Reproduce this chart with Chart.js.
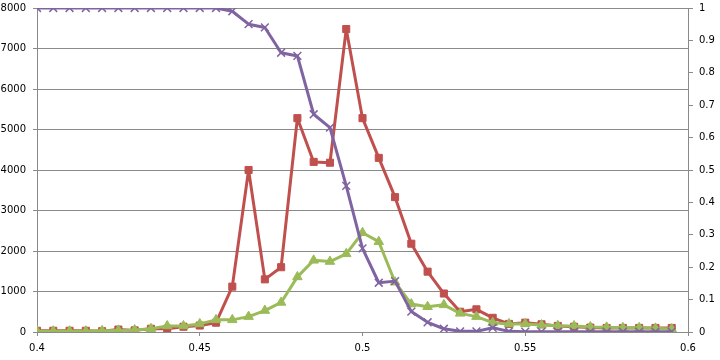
<!DOCTYPE html>
<html>
<head>
    <meta charset="utf-8" />
    <title>Chart</title>
    <script src="https://cdn.jsdelivr.net/npm/chart.js@4/dist/chart.umd.min.js"></script>
    <style>
        html, body { margin: 0; padding: 0; background: #fff; }
        #wrap { width: 720px; height: 360px; }
    </style>
</head>
<body>
    <div id="wrap"><canvas id="chart" width="720" height="360"></canvas></div>
    <script>
        // x positions of the samples
        const xs = [0.4, 0.405, 0.41, 0.415, 0.42, 0.425, 0.43, 0.435, 0.44, 0.445,
            0.45, 0.455, 0.46, 0.465, 0.47, 0.475, 0.48, 0.485, 0.49, 0.495,
            0.5, 0.505, 0.51, 0.515, 0.52, 0.525, 0.53, 0.535, 0.54, 0.545,
            0.55, 0.555, 0.56, 0.565, 0.57, 0.575, 0.58, 0.585, 0.59, 0.595];

        // left axis series
        const redValues = [30, 30, 30, 30, 20, 60, 40, 80, 80, 130,
            160, 230, 1120, 4000, 1300, 1600, 5280, 4200, 4180, 7480,
            5280, 4300, 3330, 2180, 1490, 950, 500, 560, 350, 200,
            230, 190, 150, 130, 110, 100, 100, 100, 100, 100];
        const greenValues = [20, 20, 20, 20, 30, 40, 50, 80, 150, 150,
            200, 300, 300, 380, 530, 730, 1360, 1770, 1740, 1930,
            2450, 2230, 1230, 690, 625, 670, 460, 380, 230, 200,
            200, 170, 155, 150, 125, 115, 105, 105, 90, 75];

        // right axis series (0..1)
        const purpleValues = [1, 1, 1, 1, 1, 1, 1, 1, 1, 1,
            1, 1, 0.99, 0.95, 0.94, 0.862, 0.852, 0.672, 0.631, 0.451,
            0.258, 0.152, 0.157, 0.063, 0.03, 0.01, 0.002, 0.002, 0.013, 0.002,
            0.001, 0.001, 0.001, 0.001, 0.001, 0.001, 0.001, 0.001, 0.001, 0.001];

        const gridColor = '#8a8a8a';
        const xFont = { family: 'DejaVu Sans', size: 10 };
        // small lineHeight so the top label doesn't push the plot area down
        const yFont = { family: 'DejaVu Sans', size: 10, lineHeight: 0.2 };

        const toPoints = vals => vals.map((v, i) => ({ x: xs[i], y: v }));

        new Chart(document.getElementById('chart').getContext('2d'), {
            type: 'line',
            data: {
                datasets: [
                    {
                        data: toPoints(redValues),
                        yAxisID: 'y',
                        borderColor: '#C0504D',
                        backgroundColor: '#C0504D',
                        borderWidth: 3,
                        borderJoinStyle: 'round',
                        pointStyle: 'rect',
                        pointRadius: 5,
                        pointBorderWidth: 1,
                        tension: 0,
                        order: 3,
                    },
                    {
                        data: toPoints(greenValues),
                        yAxisID: 'y',
                        borderColor: '#9BBB59',
                        backgroundColor: '#9BBB59',
                        borderWidth: 3,
                        borderJoinStyle: 'round',
                        pointStyle: 'triangle',
                        pointRadius: 5.5,
                        pointBorderWidth: 1,
                        tension: 0,
                        order: 2,
                    },
                    {
                        data: toPoints(purpleValues),
                        yAxisID: 'y1',
                        borderColor: '#8064A2',
                        backgroundColor: '#8064A2',
                        borderWidth: 3,
                        borderJoinStyle: 'round',
                        pointStyle: 'crossRot',
                        pointRadius: 5.5,
                        pointBorderWidth: 1.5,
                        tension: 0,
                        order: 1,
                    },
                ],
            },
            options: {
                responsive: false,
                animation: false,
                layout: { padding: { top: 8, left: 0, right: 0, bottom: 0 } },
                plugins: {
                    legend: { display: false },
                    tooltip: { enabled: false },
                },
                scales: {
                    x: {
                        type: 'linear',
                        min: 0.4,
                        max: 0.6,
                        afterFit: s => { s.height = 28; },
                        ticks: {
                            stepSize: 0.05,
                            color: '#000',
                            font: xFont,
                            padding: 6,
                            maxRotation: 0,
                            callback: v => String(Math.round(v * 100) / 100),
                        },
                        grid: { drawOnChartArea: false, drawTicks: true, tickLength: 4, color: gridColor },
                        border: { display: true, color: gridColor, width: 1 },
                    },
                    y: {
                        position: 'left',
                        min: 0,
                        max: 8000,
                        afterFit: s => { s.width = 37; },
                        ticks: {
                            stepSize: 1000,
                            color: '#000',
                            font: yFont,
                            padding: 7,
                            callback: v => String(v),
                        },
                        grid: { color: gridColor, tickLength: 4 },
                        border: { display: true, color: gridColor, width: 1 },
                    },
                    y1: {
                        position: 'right',
                        min: 0,
                        max: 1,
                        afterFit: s => { s.width = 32; },
                        ticks: {
                            stepSize: 0.1,
                            color: '#000',
                            font: yFont,
                            padding: 6,
                            callback: v => String(Math.round(v * 10) / 10),
                        },
                        grid: { drawOnChartArea: false, tickLength: 5, color: gridColor },
                        border: { display: true, color: gridColor, width: 1 },
                    },
                },
            },
        });
    </script>
</body>
</html>
